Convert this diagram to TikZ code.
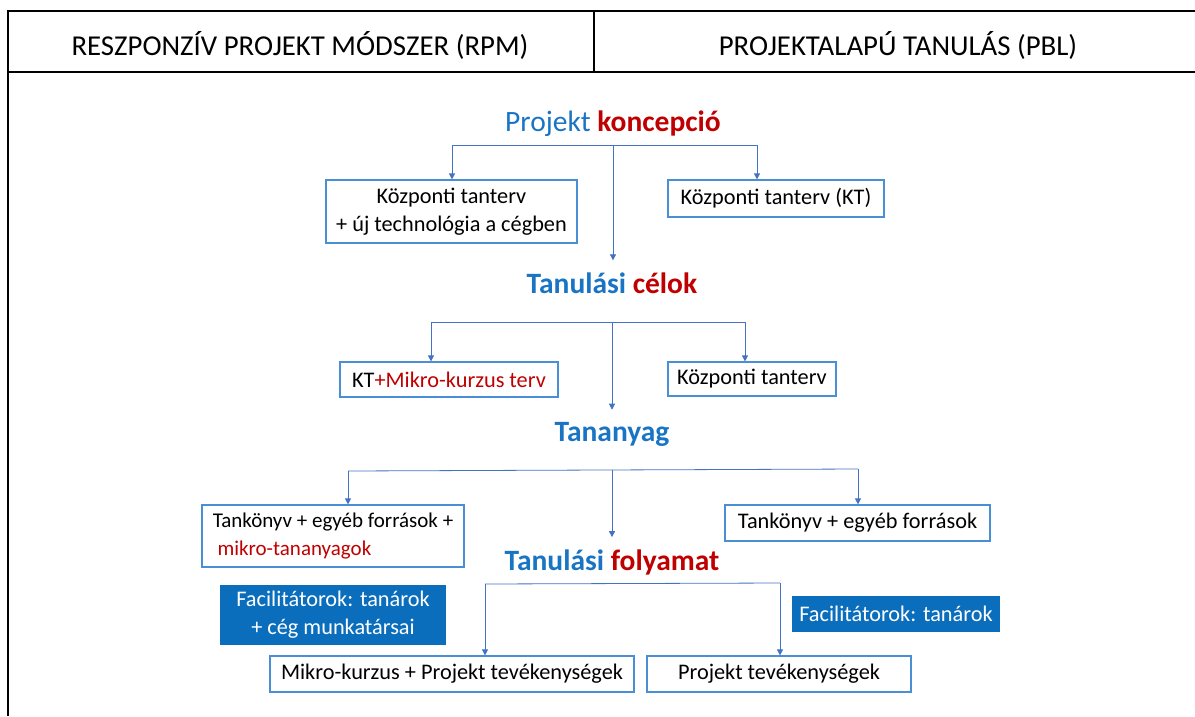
\documentclass[tikz,border=0pt]{standalone}
\usepackage{fontspec}
\setmainfont{Carlito}
\usetikzlibrary{arrows.meta,calc}
\definecolor{hblue}{HTML}{1A74C4}
\definecolor{hred}{HTML}{C00000}
\definecolor{bborder}{HTML}{4A8FD6}
\definecolor{lblue}{HTML}{4472C4}
\definecolor{fblue}{HTML}{0A6EBD}
\begin{document}
\begin{tikzpicture}[x=1pt,y=-1pt,
  frame/.style={line width=2.3pt,black},
  hd/.style={inner sep=0pt,font=\fontsize{29.5}{32}\selectfont},
  box/.style={draw=bborder,line width=1.2pt,inner sep=0pt,align=center,font=\fontsize{22.3}{28}\selectfont},
  fbox/.style={fill=fblue,inner sep=0pt,align=center,text=white,font=\fontsize{22.3}{28}\selectfont},
  ln/.style={draw=lblue,line width=0.8pt},
  conn/.style={ln,-{Triangle[length=6pt,width=6pt]}}]
\useasboundingbox (0,0) rectangle (1195,716);
% header frame
\draw[frame] (8,716) -- (8,11) -- (1200,11);
\draw[frame] (8,72) -- (1200,72);
\draw[frame] (594,11) -- (594,72);
\node[font=\fontsize{28.8}{32}\selectfont] (h1) at (300,45) {RESZPONZÍV PROJEKT MÓDSZER (RPM)};
\node[font=\fontsize{28.8}{32}\selectfont] (h2) at (898,45) {PROJEKTALAPÚ TANULÁS (PBL)};
% headings
\node[hd] (pk) at (613,124) {\textcolor{hblue}{Projekt} \textcolor{hred}{\bfseries koncepció}};
\node[hd,font=\fontsize{29.5}{32}\selectfont\bfseries] (tc) at (612,283) {\textcolor{hblue}{Tanulási} \textcolor{hred}{célok}};
\node[hd,font=\fontsize{29.5}{32}\selectfont\bfseries] (ta) at (612,434) {\textcolor{hblue}{Tananyag}};
\node[hd,font=\fontsize{29.5}{32}\selectfont\bfseries] (tf) at (612,562) {\textcolor{hblue}{Tanulási} \textcolor{hred}{folyamat}};
% boxes
\node[box,minimum width=251pt,minimum height=63pt] (A) at (451.5,211.5) {Központi tanterv\\+ új technológia a cégben};
\node[box,minimum width=216pt,minimum height=37pt] (B) at (776,198.5) {Központi tanterv (KT)};
\node[box,minimum width=218pt,minimum height=35pt] (C) at (449,379.5) {KT\textcolor{hred}{+Mikro-kurzus terv}};
\node[box,minimum width=168pt,minimum height=34pt] (D) at (752,379) {Központi tanterv};
\node[box,minimum width=262pt,minimum height=62pt,align=left,font=\fontsize{21}{28}\selectfont] (E) at (333,536) {Tankönyv + egyéb források +\\\ \textcolor{hred}{mikro-tananyagok}};
\node[box,minimum width=265pt,minimum height=36pt] (F) at (857.5,523) {Tankönyv + egyéb források};
\node[fbox,minimum width=226pt,minimum height=60pt] (G) at (333,615) {Facilitátorok: tanárok\\+ cég munkatársai};
\node[fbox,minimum width=208pt,minimum height=36pt] (H) at (896,614) {Facilitátorok: tanárok};
\node[box,minimum width=364pt,minimum height=36pt] (I) at (452,674) {Mikro-kurzus + Projekt tevékenységek};
\node[box,minimum width=264pt,minimum height=36pt] (J) at (779,674) {Projekt tevékenységek};
% branch 1
\coordinate (b1l) at (452,145);
\coordinate (b1r) at (757,145);
\coordinate (b1c) at (613,145);
\draw[ln] (b1l) -- (b1r);
\draw[conn] (b1l) -- (b1l |- A.north);
\draw[conn] (b1r) -- (b1r |- B.north);
\draw[conn] (b1c) -- ([yshift=12pt]b1c |- tc.north);
% branch 2
\coordinate (b2l) at (431,322);
\coordinate (b2r) at (745,322);
\coordinate (b2c) at (612,322);
\draw[ln] (b2l) -- (b2r);
\draw[conn] (b2l) -- (b2l |- C.north);
\draw[conn] (b2r) -- (b2r |- D.north);
\draw[conn] (b2c) -- ([yshift=12pt]b2c |- ta.north);
% branch 3
\coordinate (b3l) at (348,471);
\coordinate (b3r) at (858,469);
\coordinate (b3c) at (612,470);
\draw[ln] (b3l) -- (b3r);
\draw[conn] (b3l) -- (b3l |- E.north);
\draw[conn] (b3r) -- (b3r |- F.north);
\draw[conn] (b3c) -- ([yshift=12pt]b3c |- tf.north);
% branch 4
\coordinate (b4l) at (485,584);
\coordinate (b4r) at (780,583);
\draw[ln] (b4l) -- (b4r);
\draw[conn] (b4l) -- (b4l |- I.north);
\draw[conn] (b4r) -- (b4r |- J.north);
\end{tikzpicture}
\end{document}
